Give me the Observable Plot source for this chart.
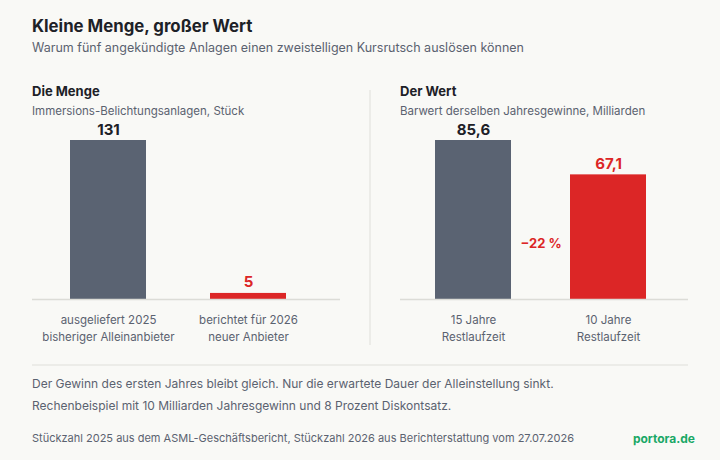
<!DOCTYPE html>
<html lang="de">
<head>
<meta charset="utf-8">
<script src="https://cdn.jsdelivr.net/npm/d3@7"></script>
<script src="https://cdn.jsdelivr.net/npm/@observablehq/plot@0.6"></script>
<style>
  html, body { margin: 0; padding: 0; background: #f9f9f6; }
  #chart { position: relative; width: 720px; height: 460px; overflow: hidden; background: #f9f9f6; font-family: Inter, "Noto Sans", sans-serif; }
  .t { position: absolute; white-space: nowrap; line-height: 1; }
  .title { left: 32px; top: 18.2px; font-size: 16.8px; font-weight: 700; color: #1d2127; }
  .subtitle { left: 32px; top: 41.9px; font-size: 12.5px; color: #5b6270; }
  .ph { font-size: 13px; font-weight: 700; color: #1d2127; top: 84.5px; }
  .ps { font-size: 11.5px; color: #5b6270; top: 105.8px; }
  .note { left: 32px; font-size: 12px; color: #5b6270; }
  .src { left: 32px; top: 432.5px; font-size: 11px; color: #5b6270; }
  .brand { right: 25px; top: 432.5px; font-size: 12px; font-weight: 700; color: #1aa866; }
  .plot { position: absolute; top: 118px; }
  .divider { position: absolute; left: 369px; top: 90px; width: 2px; height: 255px; background: #ececE8; }
  .sep { position: absolute; left: 32px; top: 364px; width: 656px; height: 2px; background: #ececE8; }
</style>
</head>
<body>
<div id="chart">
  <div class="t title">Kleine Menge, großer Wert</div>
  <div class="t subtitle">Warum fünf angekündigte Anlagen einen zweistelligen Kursrutsch auslösen können</div>

  <div class="t ph" style="left:32px">Die Menge</div>
  <div class="t ps" style="left:32px">Immersions-Belichtungsanlagen, Stück</div>
  <div class="t ph" style="left:400px">Der Wert</div>
  <div class="t ps" style="left:400px">Barwert derselben Jahresgewinne, Milliarden</div>

  <div class="divider"></div>
  <div id="menge" class="plot" style="left:32px"></div>
  <div id="wert" class="plot" style="left:400px"></div>

  <div class="sep"></div>
  <div class="t note" style="top:377.6px">Der Gewinn des ersten Jahres bleibt gleich. Nur die erwartete Dauer der Alleinstellung sinkt.</div>
  <div class="t note" style="top:399.6px">Rechenbeispiel mit 10 Milliarden Jahresgewinn und 8 Prozent Diskontsatz.</div>
  <div class="t src">Stückzahl 2025 aus dem ASML-Geschäftsbericht, Stückzahl 2026 aus Berichterstattung vom 27.07.2026</div>
  <div class="t brand">portora.de</div>
</div>

<script>
// Linkes Panel: Stückzahlen
const mengeKategorien = ["ausgeliefert 2025\nbisheriger Alleinanbieter", "berichtet für 2026\nneuer Anbieter"];
const mengeWerte = [131, 5];

// Rechtes Panel: Barwert in Milliarden
const wertKategorien = ["15 Jahre\nRestlaufzeit", "10 Jahre\nRestlaufzeit"];
const wertWerte = [85.6, 67.1];

// Farben: alt (grau) und neu (rot)
const balkenFarben = ["#5a6372", "#dc2626"];
const zahlFarben = ["#1d2127", "#dc2626"];

const fmt = v => Number.isInteger(v) ? String(v) : v.toFixed(1).replace(".", ",");

function panel({kategorien, werte, width, rangeEnd, paddingInner, paddingOuter, extra = []}) {
  const data = kategorien.map((k, i) => ({k, v: werte[i], i}));
  return Plot.plot({
    width,
    height: 227,
    marginTop: 22,
    marginBottom: 46,
    marginLeft: 0,
    marginRight: 0,
    style: {fontFamily: "Inter, 'Noto Sans', sans-serif", background: "transparent", overflow: "visible"},
    x: {domain: kategorien, range: [0, rangeEnd], paddingInner, paddingOuter, round: false, axis: null, label: null},
    y: {domain: [0, d3.max(werte)], axis: null},
    color: {type: "identity"},
    marks: [
      Plot.barY(data, {x: "k", y: "v", fill: d => balkenFarben[d.i]}),
      Plot.ruleY([0], {stroke: "#dcdcd7", strokeWidth: 1.5}),
      Plot.axisX({tickSize: 0, tickPadding: 12, fontSize: 11.5, lineHeight: 1.48, color: "#5b6270"}),
      Plot.text(data, {
        x: "k", y: "v", text: d => fmt(d.v),
        fill: d => zahlFarben[d.i],
        fontSize: 15, fontWeight: 700, lineAnchor: "bottom", dy: -6
      }),
      ...extra
    ]
  });
}

document.getElementById("menge").append(panel({
  kategorien: mengeKategorien, werte: mengeWerte,
  width: 308, rangeEnd: 292, paddingInner: 64 / 140, paddingOuter: 38 / 140
}));

// Veränderung des Barwerts zwischen beiden Restlaufzeiten
const aenderung = Math.round((wertWerte[1] / wertWerte[0] - 1) * 100);
const aenderungText = (aenderung < 0 ? "\u2212" : "+") + Math.abs(aenderung) + " %";

document.getElementById("wert").append(panel({
  kategorien: wertKategorien, werte: wertWerte,
  width: 288, rangeEnd: 281, paddingInner: 59 / 135, paddingOuter: 35 / 135,
  extra: [
    Plot.text([{k: wertKategorien[1], t: aenderungText}], {
      x: "k", text: "t", frameAnchor: "bottom",
      dx: -67.5, dy: -52,
      fill: "#dc2626", fontSize: 13, fontWeight: 700
    })
  ]
}));
</script>
</body>
</html>
